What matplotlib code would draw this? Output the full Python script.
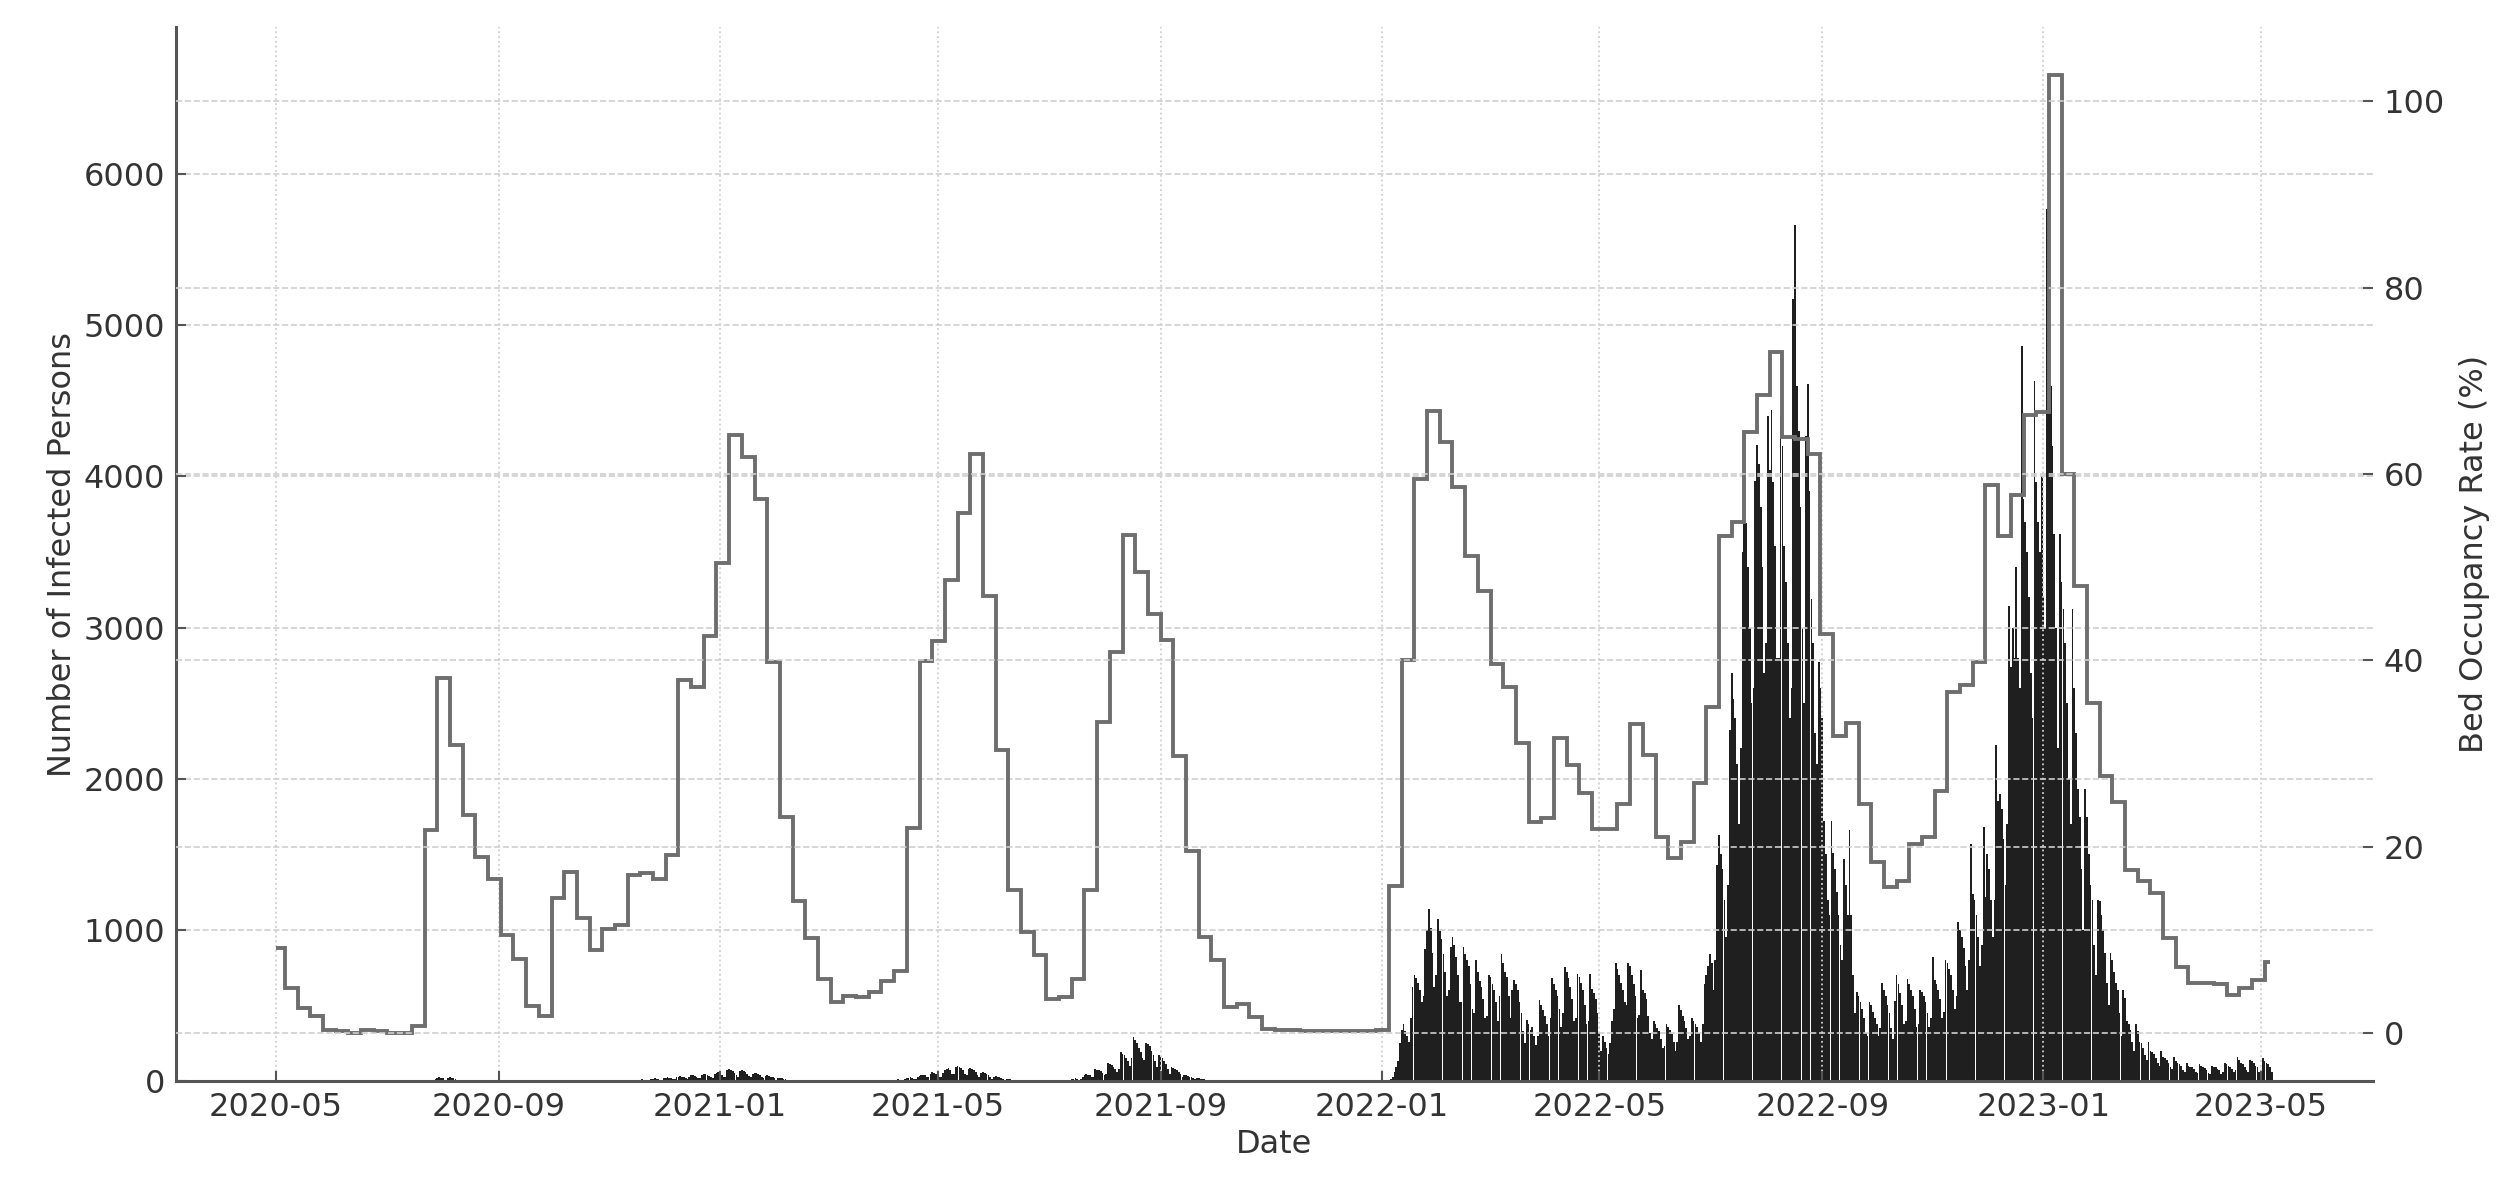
import matplotlib
matplotlib.use("Agg")
import matplotlib.pyplot as plt
import matplotlib.dates as mdates
import numpy as np
import pandas as pd

# ---- bed occupancy rate (%), weekly steps ------------------------------------
BED_FIRST_DAY = "2020-05-01"
BED_WEEK_START = "2020-05-06"
BED_LAST_DAY = "2023-05-06"
bed_rate = [
    9.1, 4.8, 2.7, 1.8, 0.3, 0.2, 0.0, 0.3, 0.2, 0.0,
    0.0, 0.8, 21.8, 38.1, 30.9, 23.4, 18.9, 16.5, 10.5, 8.0,
    2.9, 1.8, 14.5, 17.3, 12.4, 8.9, 11.2, 11.6, 17.0, 17.2,
    16.5, 19.1, 37.9, 37.2, 42.6, 50.5, 64.2, 61.8, 57.3, 39.8,
    23.2, 14.2, 10.2, 5.8, 3.3, 4.0, 3.9, 4.4, 5.6, 6.7,
    22.0, 39.9, 42.1, 48.6, 55.8, 62.2, 46.9, 30.4, 15.4, 10.9,
    8.4, 3.7, 3.9, 5.8, 15.4, 33.4, 40.9, 53.5, 49.5, 45.0,
    42.2, 29.7, 19.5, 10.3, 7.8, 2.8, 3.1, 1.7, 0.5, 0.3,
    0.3, 0.2, 0.2, 0.2, 0.2, 0.2, 0.2, 0.3, 15.8, 40.0,
    59.5, 66.8, 63.4, 58.6, 51.2, 47.4, 39.6, 37.2, 31.1, 22.7,
    23.1, 31.7, 28.8, 25.8, 21.9, 21.9, 24.6, 33.2, 29.8, 21.1,
    18.8, 20.5, 26.8, 35.0, 53.3, 54.9, 64.5, 68.5, 73.1, 64.0,
    63.8, 62.2, 42.8, 31.9, 33.3, 24.6, 18.4, 15.7, 16.3, 20.3,
    21.1, 26.0, 36.6, 37.4, 39.8, 58.8, 53.3, 57.7, 66.3, 66.7,
    102.8, 60.0, 48.0, 35.4, 27.6, 24.8, 17.5, 16.3, 15.0, 10.2,
    7.1, 5.4, 5.4, 5.3, 4.1, 4.9, 5.7, 7.6,
]

# ---- daily infected persons (only periods with visible bars) -----------------
cases_2020_summer_start = "2020-07-27"
cases_2020_summer = [
    5, 15, 20, 25, 22, 18, 10,
    8, 20, 25, 22, 18, 12, 6,
    4, 8, 10, 8, 6, 5, 3,
]

cases_2020_winter_start = "2020-11-16"
cases_2020_winter = [
    3, 8, 10, 12, 10, 8, 5,
    5, 12, 15, 18, 15, 12, 8,
    8, 18, 22, 25, 20, 18, 12,
    12, 25, 30, 35, 28, 25, 18,
    15, 30, 38, 42, 35, 30, 20,
    18, 40, 50, 48, 42, 35, 25,
    20, 45, 55, 60, 50, 40, 30,
    30, 70, 80, 75, 65, 55, 40,
    30, 65, 72, 68, 60, 50, 35,
    25, 50, 55, 52, 45, 38, 28,
    18, 35, 40, 36, 30, 25, 18,
    10, 20, 22, 20, 15, 12, 8,
    5, 10, 10, 8, 6, 5, 3,
]

cases_2021_spring_start = "2021-04-05"
cases_2021_spring = [
    3, 6, 8, 10, 12, 10, 6,
    8, 15, 20, 22, 25, 22, 15,
    15, 30, 35, 40, 42, 38, 25,
    25, 50, 60, 55, 50, 45, 30,
    30, 55, 70, 80, 85, 75, 50,
    45, 90, 103, 95, 85, 70, 50,
    40, 80, 85, 78, 70, 60, 40,
    30, 55, 60, 55, 48, 40, 25,
    15, 30, 32, 28, 24, 18, 12,
    8, 15, 15, 12, 10, 8, 5,
    4, 6, 6, 5, 4, 3, 2,
]

cases_2021_summer_start = "2021-07-12"
cases_2021_summer = [
    5, 10, 14, 16, 18, 15, 10,
    12, 30, 40, 45, 42, 38, 25,
    30, 80, 75, 70, 65, 55, 40,
    50, 120, 115, 105, 95, 80, 60,
    80, 190, 180, 170, 150, 130, 100,
    150, 293, 270, 250, 220, 190, 150,
    140, 255, 245, 230, 200, 170, 130,
    90, 170, 160, 150, 130, 110, 80,
    50, 90, 85, 80, 70, 60, 45,
    25, 40, 38, 35, 30, 25, 18,
    12, 20, 18, 16, 14, 12, 8,
    6, 10, 9, 8, 7, 6, 4,
    3, 5, 5, 4, 3, 3, 2,
]

cases_2022_start = "2021-12-27"
cases_2022 = [
    0, 0, 0, 0, 0, 60, 0,
    0, 0, 5, 12, 30, 60, 90,
    130, 250, 340, 380, 330, 300, 260,
    420, 620, 700, 680, 650, 600, 520,
    560, 875, 1000, 1140, 1010, 850, 620,
    700, 1070, 990, 940, 840, 720, 560,
    600, 890, 950, 900, 820, 700, 520,
    520, 890, 840, 800, 760, 640, 480,
    450, 800, 720, 660, 620, 540, 420,
    430, 700, 690, 640, 600, 520, 400,
    560, 840, 780, 720, 690, 560, 420,
    600, 670, 640, 600, 520, 450, 330,
    250, 405, 380, 340, 360, 300, 240,
    300, 535, 500, 470, 430, 380, 300,
    420, 680, 640, 600, 560, 480, 360,
    450, 755, 720, 680, 620, 540, 400,
    420, 710, 690, 650, 600, 500, 380,
    400, 710, 610, 580, 540, 450, 320,
    200, 300, 260, 220, 180, 250, 400,
    480, 780, 740, 700, 650, 600, 520,
    500, 780, 760, 700, 640, 560, 420,
    440, 735, 600, 580, 540, 430, 320,
    280, 395, 380, 350, 330, 280, 220,
    230, 380, 360, 340, 310, 260, 200,
    260, 500, 470, 430, 400, 350, 280,
    300, 415, 400, 380, 360, 320, 260,
    380, 645, 700, 760, 840, 780, 600,
    800, 1430, 1630, 1500, 1400, 1200, 950,
    1300, 2320, 2700, 2530, 2400, 2100, 1700,
    2200, 3500, 3930, 3690, 3400, 3000, 2500,
    2600, 3970, 4210, 4080, 3800, 3400, 2700,
    2900, 4400, 4040, 4440, 3960, 3540, 2800,
    2800, 4400, 4200, 3540, 3300, 2900, 2400,
    2600, 5170, 5660, 4600, 4300, 3800, 3000,
    2500, 4270, 4610, 3900, 3190, 2900, 2300,
    2100, 2770, 2600, 2400, 1720, 1500, 1200,
    1100, 1720, 1510, 1400, 1250, 1100, 900,
    800, 1470, 1300, 1100, 1660, 1100, 700,
    450, 590, 560, 520, 480, 420, 320,
    300, 520, 500, 460, 420, 380, 300,
    350, 650, 600, 560, 500, 450, 350,
    280, 530, 700, 640, 580, 500, 380,
    400, 675, 640, 600, 560, 480, 360,
    380, 600, 590, 560, 520, 450, 360,
    420, 820, 670, 640, 600, 540, 420,
    460, 800, 780, 740, 700, 600, 480,
    560, 1050, 1000, 950, 880, 760, 600,
    800, 1570, 1240, 1200, 1100, 950, 760,
    900, 1680, 1220, 1500, 1400, 1200, 950,
    1200, 2220, 1850, 1900, 1800, 1600, 1300,
    1700, 3140, 2740, 3000, 2800, 3400, 2800,
    2600, 4860, 3850, 3700, 3500, 3200, 2700,
    2400, 4630, 3960, 3700, 3500, 4000, 3200,
    3000, 5770, 5070, 4600, 4200, 3620, 3000,
    2200, 3620, 3300, 3120, 2900, 2500, 2000,
    1700, 3120, 2600, 2300, 1930, 1750, 1400,
    1000, 1930, 1750, 1500, 1300, 1200, 900,
    700, 1200, 1190, 1100, 1000, 850, 650,
    500, 850, 800, 720, 650, 600, 450,
    300, 600, 550, 400, 380, 340, 260,
    200, 380, 330, 260, 250, 220, 170,
    140, 260, 200, 190, 180, 150, 120,
    100, 200, 160, 150, 140, 120, 90,
    80, 160, 130, 120, 110, 100, 70,
    60, 120, 100, 95, 90, 80, 60,
    55, 110, 100, 90, 85, 75, 55,
    50, 100, 95, 90, 80, 70, 50,
    60, 120, 110, 100, 90, 80, 60,
    70, 160, 140, 120, 110, 90, 70,
    60, 140, 130, 120, 100, 90, 60,
    70, 150, 130, 120, 110, 90, 60,
]

LEFT_TOP = 6970

TEXT = "#333333"
AXIS = "#555555"
GRID = "#cfcfcf"
LINE = "#6e6e6e"


def daily(start, values):
    return pd.date_range(start, periods=len(values), freq="D"), values


def main():
    plt.rcParams["font.family"] = "DejaVu Sans"
    fig = plt.figure(figsize=(25.16, 11.88), dpi=100)
    ax = fig.add_axes([0.070, 0.090, 0.873, 0.887])
    ax2 = ax.twinx()

    segments = [
        (cases_2020_summer_start, cases_2020_summer),
        (cases_2020_winter_start, cases_2020_winter),
        (cases_2021_spring_start, cases_2021_spring),
        (cases_2021_summer_start, cases_2021_summer),
        (cases_2022_start, cases_2022),
    ]
    for start, vals in segments:
        d, v = daily(start, vals)
        ax.bar(d, v, width=0.95, color="black", alpha=0.88, linewidth=0)

    edges = ([pd.Timestamp(BED_FIRST_DAY)]
             + list(pd.date_range(BED_WEEK_START, periods=len(bed_rate) - 1, freq="7D"))
             + [pd.Timestamp(BED_LAST_DAY)])
    ax2.stairs(bed_rate, mdates.date2num(edges), baseline=None,
               color=LINE, linewidth=2.8)

    ax.set_ylim(0, LEFT_TOP)

    ax.xaxis.set_major_locator(mdates.MonthLocator(bymonth=[1, 5, 9]))
    ax.xaxis.set_major_formatter(mdates.DateFormatter("%Y-%m"))

    for a in (ax, ax2):
        a.spines["top"].set_visible(False)
        a.spines["right"].set_visible(False)
        a.grid(axis="y", linestyle="--", color=GRID, linewidth=1.2)
        a.tick_params(direction="in", length=7, width=1.5, colors=AXIS,
                      labelcolor=TEXT, labelsize=23, pad=8)
    ax2.spines["left"].set_visible(False)
    ax2.spines["bottom"].set_visible(False)
    ax.grid(axis="x", linestyle=":", color=GRID, linewidth=1.3)
    ax.spines["left"].set_color(AXIS)
    ax.spines["bottom"].set_color(AXIS)
    ax.spines["left"].set_linewidth(2.2)
    ax.spines["bottom"].set_linewidth(2.2)

    ax.set_xlabel("Date", fontsize=23, color=TEXT)
    ax.set_ylabel("Number of Infected Persons", fontsize=23, color=TEXT)
    ax2.set_ylabel("Bed Occupancy Rate (%)", fontsize=23, color=TEXT, labelpad=10)

    fig.savefig("out.png", dpi=100)


if __name__ == "__main__":
    main()
